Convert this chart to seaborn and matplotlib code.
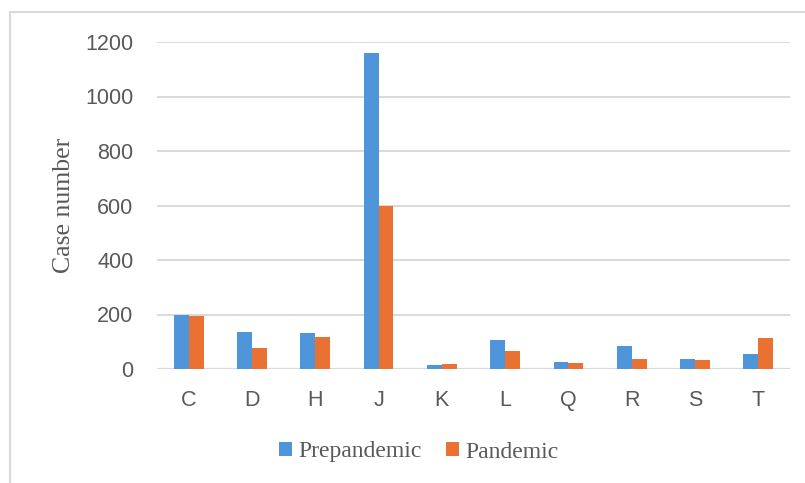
import matplotlib
matplotlib.use("Agg")
import matplotlib.pyplot as plt
import seaborn as sns
import pandas as pd
from matplotlib.patches import Rectangle

categories = ["C", "D", "H", "J", "K", "L", "Q", "R", "S", "T"]
prepandemic = [198, 137, 131, 1160, 13, 105, 24, 84, 35, 54]
pandemic = [195, 76, 116, 600, 17, 67, 23, 38, 32, 115]
series_names = ["Prepandemic", "Pandemic"]
yticks = [0, 200, 400, 600, 800, 1000, 1200]

df = pd.DataFrame({
    "cat": categories * 2,
    "value": prepandemic + pandemic,
    "series": [series_names[0]] * len(categories) + [series_names[1]] * len(categories),
})

sns.set_theme(style="white")
text_col = "#595959"
grid_col = "#D9D9D9"

fig = plt.figure(figsize=(8.05, 4.83), dpi=100)
ax = fig.add_axes([157/805, (483-369)/483, (790-157)/805, (369-42)/483])

sns.barplot(data=df, x="cat", y="value", hue="series", order=categories,
            hue_order=series_names, palette=["#4E95D9", "#E97132"],
            width=0.47, gap=0, ax=ax, saturation=1, zorder=3, legend=True,
            linewidth=0, edgecolor="none")

ax.set_ylim(0, 1200)
ax.set_xlim(-0.5, len(categories) - 0.5)
ax.set_yticks(yticks)
ax.set_yticklabels([str(v) for v in yticks])
ax.yaxis.grid(True, color=grid_col, linewidth=1.4, zorder=0)
ax.set_axisbelow(True)
for s in ax.spines.values():
    s.set_visible(False)
ax.axhline(0, color=grid_col, linewidth=1.6, zorder=2)

ax.tick_params(axis="y", length=0, pad=17, labelsize=15.5, labelcolor=text_col)
ax.tick_params(axis="x", length=0, pad=15, labelsize=15.5, labelcolor=text_col)
for lab in ax.get_xticklabels() + ax.get_yticklabels():
    lab.set_fontfamily("Liberation Sans")

ax.set_xlabel("")
ax.set_ylabel("Case number", fontsize=18.5, family="Liberation Serif", color=text_col)
ax.yaxis.set_label_coords((75 - 157) / (790 - 157), 0.5)

handles, labels = ax.get_legend_handles_labels()
ax.get_legend().remove()
fig.legend(handles, labels, loc="center", bbox_to_anchor=(419/805, 31/483),
           ncol=2, frameon=False, handlelength=0.55, handleheight=0.55,
           handletextpad=0.25, columnspacing=1.05,
           prop={"family": "Liberation Serif", "size": 17}, labelcolor=text_col)

# chart area border (left and top visible)
fig.patches.append(Rectangle((10/805, -0.1), 1.2, (483-12)/483 + 0.1,
                             transform=fig.transFigure, fill=False,
                             edgecolor=grid_col, linewidth=1.5, zorder=0))

fig.savefig("out.png", dpi=100)
